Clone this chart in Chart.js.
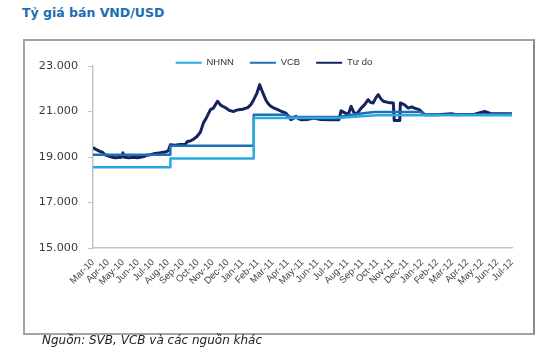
<!DOCTYPE html>
<html>
<head>
<meta charset="utf-8">
<script src="https://cdn.jsdelivr.net/npm/chart.js@4/dist/chart.umd.min.js"></script>
<style>
  html, body { margin: 0; padding: 0; background: #ffffff; }
  body { width: 550px; height: 357px; position: relative; overflow: hidden; }
  #title { position: absolute; left: 22px; top: 5px; font: bold 12.5px "DejaVu Sans", sans-serif; color: #1d6db4; white-space: nowrap; }
  #frame { position: absolute; left: 23px; top: 39px; width: 508px; height: 292px; border: 2px solid #a4a4a4; border-right-color: #8a8a8a; }
  #chart { position: absolute; left: 0; top: 0; }
  #source { position: absolute; left: 42px; top: 333px; font: italic 12px "DejaVu Sans", sans-serif; color: #222; white-space: nowrap; }
</style>
</head>
<body>
<div id="title">Tỷ giá bán VND/USD</div>
<div id="frame"></div>
<canvas id="chart" width="550" height="357"></canvas>
<div id="source">Nguồn: SVB, VCB và các nguồn khác</div>
<script>
// Month tick labels (x = month index, 0 = Mar-10)
const monthLabels = ["Mar-10","Apr-10","May-10","Jun-10","Jul-10","Aug-10","Sep-10","Oct-10","Nov-10","Dec-10",
  "Jan-11","Feb-11","Mar-11","Apr-11","May-11","Jun-11","Jul-11","Aug-11","Sep-11","Oct-11","Nov-11","Dec-11",
  "Jan-12","Feb-12","Mar-12","Apr-12","May-12","Jun-12","Jul-12"];

const seriesNames = ["NHNN", "VCB", "Tự do"];

// NHNN (official rate)
const nhnnT = [0, 5.17, 5.17, 10.74, 10.74, 16.4, 17.2, 18.2, 19.0, 22.0, 28];
const nhnnV = [18544, 18544, 18932, 18932, 20710, 20710, 20760, 20800, 20840, 20830, 20830];

// VCB
const vcbT = [0, 5.17, 5.17, 10.74, 10.74, 12.8, 13.2, 16.4, 17.5, 18.8, 21.9, 22.2, 28];
const vcbV = [19100, 19100, 19500, 19500, 20860, 20860, 20760, 20760, 20880, 20980, 20980, 20860, 20880];

// Free market (Tự do)
const tudoT = [0.00,0.15,0.30,0.47,0.65,0.80,1.00,1.14,1.30,1.48,1.70,1.90,2.00,2.10,2.40,2.70,3.00,3.15,3.40,3.60,
  3.83,4.10,4.30,4.50,4.80,5.03,5.17,5.50,5.80,6.17,6.30,6.50,6.71,6.95,7.18,7.38,7.60,7.85,8.05,8.32,
  8.50,8.66,8.90,9.10,9.40,9.60,9.73,10.00,10.34,10.55,10.74,10.95,11.14,11.30,11.54,11.70,11.88,12.10,12.35,12.60,
  12.89,13.05,13.22,13.40,13.56,13.70,13.89,14.30,14.77,15.20,15.90,16.44,16.58,16.80,17.05,17.25,17.40,17.58,17.75,17.92,
  18.15,18.39,18.55,18.72,18.90,19.06,19.25,19.40,19.70,20.07,20.13,20.50,20.54,20.80,21.07,21.30,21.48,21.80,22.15,23.00,
  23.96,24.30,25.50,26.17,26.60,27.99];
const tudoV = [19420,19350,19300,19240,19200,19100,19050,19020,18990,18965,18980,18990,19180,18990,18970,18990,18970,18990,19020,19080,
  19100,19150,19170,19185,19220,19270,19540,19520,19550,19560,19680,19700,19780,19900,20100,20500,20750,21080,21150,21450,
  21300,21230,21150,21050,21000,21060,21080,21100,21170,21300,21520,21800,22180,21900,21520,21350,21230,21150,21080,21000,
  20930,20800,20640,20700,20785,20700,20640,20650,20710,20650,20640,20640,21035,20950,20860,21225,21000,20860,21000,21150,
  21300,21520,21400,21375,21600,21740,21550,21450,21400,21375,20600,20600,21375,21300,21150,21200,21150,21080,20860,20860,
  20900,20860,20880,21000,20900,20900];

// y-axis ticks
const yMin = 15000, yMax = 23000, yStep = 2000;

const colors = ["#2aa9e0", "#1f6fb6", "#15235e"];

function pts(t, v) { return t.map((x, i) => ({ x: x, y: v[i] })); }

new Chart(document.getElementById("chart"), {
  type: "line",
  data: {
    datasets: [
      { label: seriesNames[0], data: pts(nhnnT, nhnnV), borderColor: colors[0], backgroundColor: colors[0], borderWidth: 2.5 },
      { label: seriesNames[1], data: pts(vcbT, vcbV), borderColor: colors[1], backgroundColor: colors[1], borderWidth: 2.5 },
      { label: seriesNames[2], data: pts(tudoT, tudoV), borderColor: colors[2], backgroundColor: colors[2], borderWidth: 3 }
    ]
  },
  options: {
    responsive: false,
    animation: false,
    elements: { point: { radius: 0 }, line: { tension: 0, borderJoinStyle: "round" } },
    layout: { padding: { left: 36, right: 38, top: 42, bottom: 0 } },
    plugins: {
      tooltip: { enabled: false },
      legend: {
        position: "top",
        maxHeight: 24,
        labels: {
          boxWidth: 26,
          boxHeight: 2,
          padding: 16,
          color: "#333",
          font: { family: "Liberation Sans", size: 9.5 },
          generateLabels: function (chart) {
            return Chart.defaults.plugins.legend.labels.generateLabels(chart).map(function (it) {
              it.lineWidth = 0; it.fillStyle = it.strokeStyle; return it;
            });
          }
        }
      }
    },
    scales: {
      x: {
        type: "linear",
        min: 0, max: monthLabels.length - 1,
        afterFit: function (s) { s.height = 109; },
        grid: { display: false, drawTicks: false },
        border: { display: true, color: "#c4c4c4", width: 1.5 },
        ticks: {
          stepSize: 1, autoSkip: false, maxRotation: 45, minRotation: 45,
          padding: 9, color: "#444",
          font: { family: "Liberation Sans", size: 9.5 },
          callback: function (v) { return monthLabels[v]; }
        }
      },
      y: {
        min: yMin, max: yMax,
        afterFit: function (s) { s.width = 57; },
        grid: { drawOnChartArea: false, drawTicks: true, tickLength: 5, color: "#c4c4c4" },
        border: { display: true, color: "#c4c4c4", width: 1.5 },
        ticks: {
          stepSize: yStep, padding: 10, color: "#3a3a3a",
          font: { family: "DejaVu Sans", size: 11.2 },
          callback: function (v) { return String(v / 1000) + ".000"; }
        }
      }
    }
  }
});
</script>
</body>
</html>
